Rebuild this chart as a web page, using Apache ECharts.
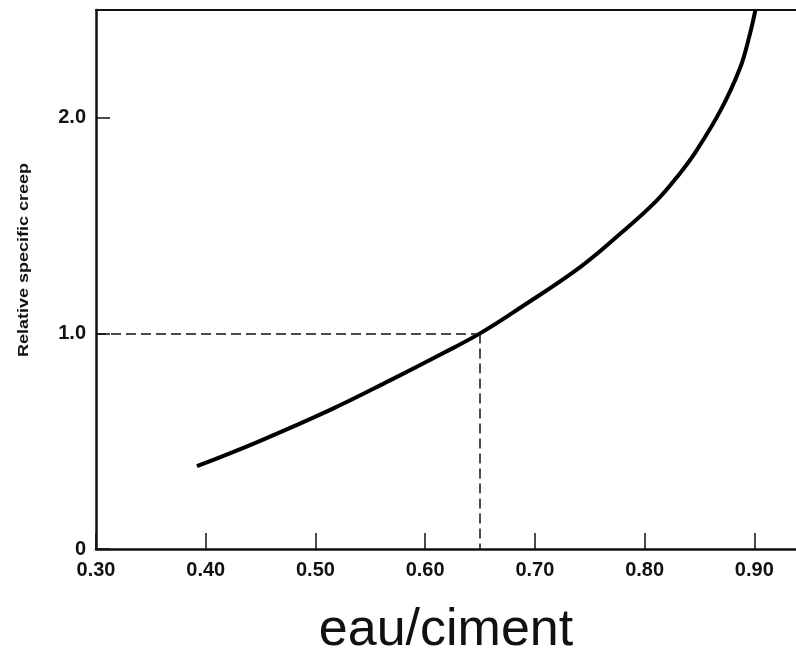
<!DOCTYPE html>
<html>
<head>
<meta charset="utf-8">
<script src="https://cdn.jsdelivr.net/npm/echarts@6/dist/echarts.min.js"></script>
<style>
  html, body { margin: 0; padding: 0; background: #fff; }
  #main { width: 796px; height: 652px; }
</style>
</head>
<body>
<div id="main"></div>
<script>
// rapport eau/ciment et fluage spécifique relatif
var wc = [0.392, 0.447, 0.513, 0.568, 0.614, 0.650, 0.687, 0.741, 0.778, 0.811, 0.832, 0.845, 0.869, 0.887, 0.896, 0.901];
var creep = [0.384, 0.496, 0.644, 0.782, 0.902, 1.0, 1.12, 1.306, 1.463, 1.616, 1.741, 1.83, 2.032, 2.231, 2.389, 2.5];
// point de référence (lignes pointillées)
var refWc = 0.65;
var refCreep = 1.0;

var curve = [];
for (var i = 0; i < wc.length; i++) {
  curve.push([wc[i], creep[i]]);
}

var labelFont = {
  color: '#111',
  fontFamily: 'Liberation Sans',
  fontWeight: 'bold',
  fontSize: 20
};

var myChart = echarts.init(document.getElementById('main'));
var option = {
  animation: false,
  backgroundColor: '#fff',
  grid: { left: 96, top: 10, right: 0, bottom: 103, outerBoundsMode: 'none' },
  xAxis: [{
    type: 'value',
    min: 0.3,
    max: 0.938,
    interval: 0.1,
    splitLine: { show: false },
    axisLine: { lineStyle: { color: '#111', width: 2.5 } },
    axisTick: { inside: true, length: 16, lineStyle: { color: '#111', width: 1.5 } },
    axisLabel: Object.assign({
      margin: 11,
      showMaxLabel: false,
      formatter: function (v) { return v.toFixed(2); }
    }, labelFont),
    name: 'eau/ciment',
    nameLocation: 'middle',
    nameGap: 56,
    nameTextStyle: { color: '#111', fontFamily: 'Liberation Sans', fontSize: 52 }
  }, {
    // trait du cadre en haut
    type: 'value',
    position: 'top',
    min: 0.3,
    max: 0.938,
    splitLine: { show: false },
    axisLine: { lineStyle: { color: '#111', width: 2 } },
    axisTick: { show: false },
    axisLabel: { show: false }
  }],
  yAxis: {
    type: 'value',
    min: 0,
    max: 2.5,
    interval: 1,
    splitLine: { show: false },
    axisLine: { lineStyle: { color: '#111', width: 2.5 } },
    axisTick: { inside: true, length: 14, lineStyle: { color: '#111', width: 1.5 } },
    axisLabel: Object.assign({
      margin: 10,
      showMaxLabel: false,
      formatter: function (v) { return v === 0 ? '0' : v.toFixed(1); }
    }, labelFont)
  },
  graphic: [{
    type: 'text',
    x: 24,
    y: 260,
    rotation: Math.PI / 2,
    scaleX: 1.2,
    style: {
      text: 'Relative specific creep',
      fill: '#111',
      font: 'bold 15px "Liberation Sans"',
      align: 'center',
      verticalAlign: 'middle'
    }
  }],
  series: [{
    type: 'line',
    data: curve,
    smooth: 0.4,
    showSymbol: false,
    clip: true,
    lineStyle: { color: '#000', width: 4 },
    markLine: {
      silent: true,
      symbol: 'none',
      label: { show: false },
      lineStyle: { color: '#111', width: 1.5, type: [10, 5] },
      data: [
        [{ coord: [0.3, refCreep] }, { coord: [refWc, refCreep] }],
        [{ coord: [refWc, refCreep] }, { coord: [refWc, 0] }]
      ]
    }
  }]
};

myChart.setOption(option);
</script>
</body>
</html>
